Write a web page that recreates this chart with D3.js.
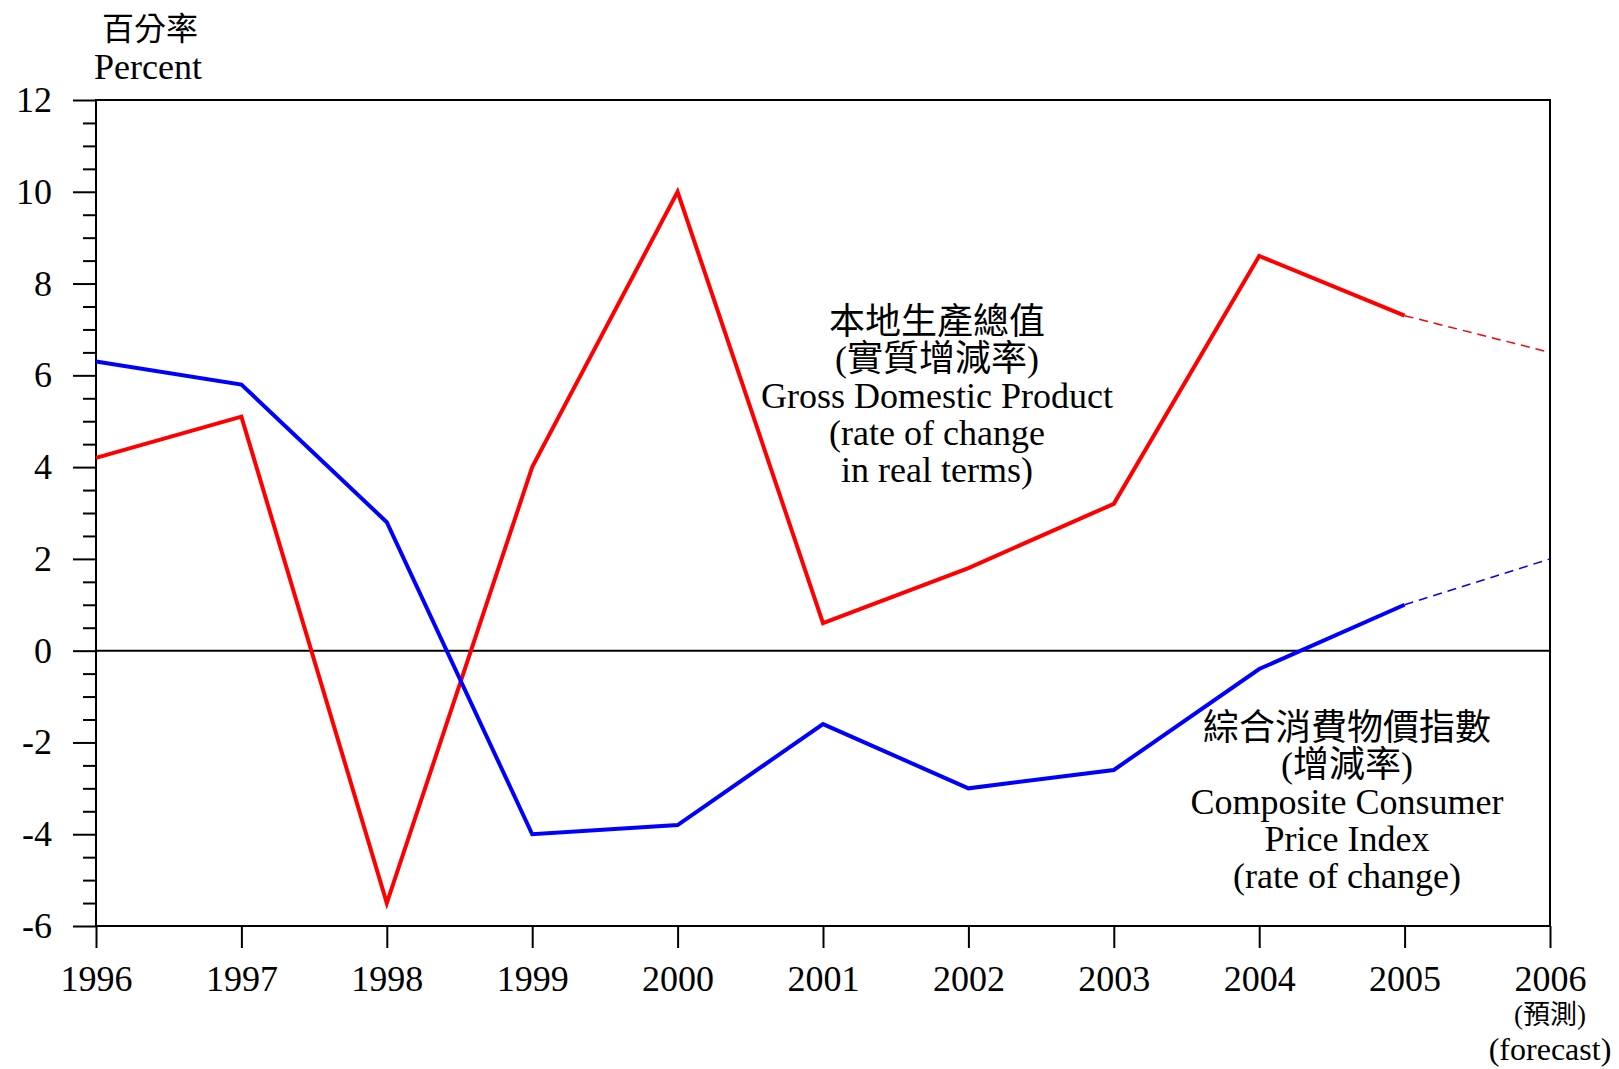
<!DOCTYPE html>
<html>
<head>
<meta charset="utf-8">
<script src="https://cdn.jsdelivr.net/npm/d3@7"></script>
<style>
  body { margin: 0; background: #fff; }
  svg text { font-family: "Liberation Serif", "Noto Sans CJK TC", serif; fill: #000; }
</style>
</head>
<body>
<div id="chart"></div>
<script>
// data
let years = [1996, 1997, 1998, 1999, 2000, 2001, 2002, 2003, 2004, 2005, 2006];
let gdp = [4.2, 5.1, -5.5, 4.0, 10.0, 0.6, 1.8, 3.2, 8.6, 7.3, 6.5];
let cpi = [6.3, 5.8, 2.8, -4.0, -3.8, -1.6, -3.0, -2.6, -0.4, 1.0, 2.0];
let forecastFrom = 2005;
let yMajor = [-6, -4, -2, 0, 2, 4, 6, 8, 10, 12];
let gdpLabel = ["本地生產總值", "(實質增減率)", "Gross Domestic Product", "(rate of change", "in real terms)"];
let cpiLabel = ["綜合消費物價指數", "(增減率)", "Composite Consumer", "Price Index", "(rate of change)"];

let svgWidth = 1619;
let svgHeight = 1069;
let margin = { top: 100, left: 96, right: 69, bottom: 143 };
let width = svgWidth - margin.left - margin.right;
let height = svgHeight - margin.top - margin.bottom;

let svg = d3.select("#chart").append("svg")
  .attr("width", svgWidth)
  .attr("height", svgHeight);

let chartGroup = svg.append("g")
  .attr("transform", `translate(${margin.left}, ${margin.top})`);

let x = d3.scaleLinear().domain([1996, 2006]).range([0, width]);
let y = d3.scaleLinear().domain([-6, 12]).range([height, 0]);

// minor ticks every 0.5
let yMinor = d3.range(-6, 12.01, 0.5).filter(v => !yMajor.includes(v));
chartGroup.append("g")
  .call(d3.axisLeft(y).tickValues(yMinor).tickSize(13).tickFormat(""))
  .call(g => g.select(".domain").remove())
  .selectAll("line").attr("stroke-width", 2);

let leftAxis = chartGroup.append("g")
  .call(d3.axisLeft(y).tickValues(yMajor).tickSize(23).tickPadding(21).tickFormat(d => String(d)))
  .attr("font-family", null).attr("font-size", null);
leftAxis.select(".domain").remove();
leftAxis.selectAll("line").attr("stroke-width", 2);
leftAxis.selectAll("text").style("font-size", "36px");

let bottomAxis = chartGroup.append("g")
  .attr("transform", `translate(0, ${height})`)
  .call(d3.axisBottom(x).tickValues(years).tickSize(22).tickFormat(d => String(d)))
  .attr("font-family", null).attr("font-size", null);
bottomAxis.select(".domain").remove();
bottomAxis.selectAll("line").attr("stroke-width", 2);
bottomAxis.selectAll("text")
  .attr("y", 65).attr("dy", null)
  .style("font-size", "36px");

// forecast note under last year
let noteX = x(years[years.length - 1]);
chartGroup.append("text")
  .attr("x", noteX).attr("y", height + 98)
  .style("text-anchor", "middle").style("font-size", "27px")
  .text("(預測)");
chartGroup.append("text")
  .attr("x", noteX).attr("y", height + 134)
  .style("text-anchor", "middle").style("font-size", "32px")
  .text("(forecast)");

// frame and zero line
chartGroup.append("rect")
  .attr("width", width).attr("height", height)
  .attr("fill", "none").attr("stroke", "#000").attr("stroke-width", 2);
chartGroup.append("line")
  .attr("x1", 0).attr("x2", width)
  .attr("y1", y(0)).attr("y2", y(0))
  .attr("stroke", "#000").attr("stroke-width", 2);

// lines
let line = d3.line().x(d => x(d[0])).y(d => y(d[1]));
function drawSeries(values, color) {
  let pts = years.map((yr, i) => [yr, values[i]]);
  chartGroup.append("path")
    .datum(pts.filter(p => p[0] <= forecastFrom))
    .attr("d", line)
    .attr("fill", "none").attr("stroke", color)
    .attr("stroke-width", 4).attr("stroke-linejoin", "miter");
  chartGroup.append("path")
    .datum(pts.filter(p => p[0] >= forecastFrom))
    .attr("d", line)
    .attr("fill", "none").attr("stroke", color)
    .attr("stroke-width", 1.5).attr("stroke-dasharray", "9,6");
}
drawSeries(gdp, "#ff0000");
drawSeries(cpi, "#0000ff");

// annotations
function drawLabel(lines, cx, firstBaseline) {
  chartGroup.append("g").selectAll("text")
    .data(lines).enter().append("text")
    .attr("x", cx - margin.left)
    .attr("y", (d, i) => firstBaseline - margin.top + i * 37)
    .style("text-anchor", "middle").style("font-size", "36px")
    .text(d => d);
}
drawLabel(gdpLabel, 937, 334);
drawLabel(cpiLabel, 1347, 740);

// y axis title
svg.append("text")
  .attr("x", 150).attr("y", 40)
  .style("text-anchor", "middle").style("font-size", "32px")
  .text("百分率");
svg.append("text")
  .attr("x", 94).attr("y", 79)
  .style("font-size", "36px")
  .text("Percent");
</script>
</body>
</html>
